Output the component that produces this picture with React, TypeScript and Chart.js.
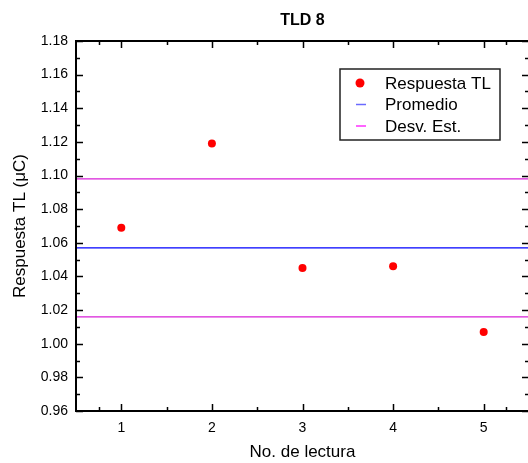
import { useEffect, useRef } from 'react';
import { Chart, registerables } from 'chart.js';

Chart.register(...registerables);

// ---- data ----
const lecturas = [1, 2, 3, 4, 5];
const respuestaTL = [1.069, 1.119, 1.045, 1.046, 1.007];
const promedio = 1.057;
const desvSuperior = 1.098;
const desvInferior = 1.016;
const xLimits = [0.5, 5.5];
const yLimits = [0.96, 1.18];
const xTickValues = [1, 2, 3, 4, 5];
const yTickValues = [0.96, 0.98, 1.0, 1.02, 1.04, 1.06, 1.08, 1.1, 1.12, 1.14, 1.16, 1.18];
const legendOrder = ['Respuesta TL', 'Promedio', 'Desv. Est.'];

const FONT = "'Liberation Sans', Arial, Helvetica, sans-serif";

const midpoints = (arr: number[], lo: number, hi: number) => {
  const out: number[] = [];
  const all = [lo, ...arr, hi];
  for (let i = 0; i < all.length - 1; i++) {
    const m = (all[i] + all[i + 1]) / 2;
    if (m > lo && m < hi && !arr.includes(m)) out.push(m);
  }
  return out;
};

const axisBoxPlugin = {
  id: 'axisBox',
  afterDraw(chart: any) {
    const { ctx, chartArea: a, scales } = chart;
    const xs = scales.x;
    const ys = scales.y;
    ctx.save();
    ctx.strokeStyle = '#000';
    ctx.lineWidth = 1.5;
    const major = 7;
    const minor = 4;
    const xMinor = midpoints(xTickValues, xLimits[0], xLimits[1]);
    const yMinor = midpoints(yTickValues, yLimits[0], yLimits[1]);
    const drawX = (v: number, len: number) => {
      const px = Math.round(xs.getPixelForValue(v)) + 0.5;
      ctx.beginPath();
      ctx.moveTo(px, a.bottom);
      ctx.lineTo(px, a.bottom - len);
      ctx.moveTo(px, a.top);
      ctx.lineTo(px, a.top + len);
      ctx.stroke();
    };
    const drawY = (v: number, len: number) => {
      const py = Math.round(ys.getPixelForValue(v)) + 0.5;
      ctx.beginPath();
      ctx.moveTo(a.left, py);
      ctx.lineTo(a.left + len, py);
      ctx.moveTo(a.right, py);
      ctx.lineTo(a.right - len, py);
      ctx.stroke();
    };
    xTickValues.forEach((v) => drawX(v, major));
    xMinor.forEach((v) => drawX(v, minor));
    yTickValues.forEach((v) => drawY(v, major));
    yMinor.forEach((v) => drawY(v, minor));
    ctx.lineWidth = 2;
    ctx.strokeRect(a.left, a.top, a.right - a.left, a.bottom - a.top);
    ctx.restore();
  },
};

const insideLegendPlugin = {
  id: 'insideLegend',
  afterDraw(chart: any) {
    const { ctx } = chart;
    const items = legendOrder
      .map((name) => chart.data.datasets.find((d: any) => d.label === name))
      .filter(Boolean);
    const bx = 340;
    const by = 69;
    const bw = 160;
    const bh = 71;
    ctx.save();
    ctx.fillStyle = '#fff';
    ctx.fillRect(bx, by, bw, bh);
    ctx.lineWidth = 1.5;
    ctx.strokeStyle = '#222';
    ctx.strokeRect(bx, by, bw, bh);
    ctx.font = `17px ${FONT}`;
    ctx.textBaseline = 'middle';
    ctx.textAlign = 'left';
    items.forEach((d: any, i: number) => {
      const cy = by + 14 + i * 21.5;
      if (d.showLine) {
        ctx.strokeStyle = d.legendColor;
        ctx.lineWidth = 1.5;
        ctx.beginPath();
        ctx.moveTo(356, cy);
        ctx.lineTo(366, cy);
        ctx.stroke();
      } else {
        ctx.fillStyle = d.backgroundColor;
        ctx.beginPath();
        ctx.arc(360, cy, 4.5, 0, Math.PI * 2);
        ctx.fill();
      }
      ctx.fillStyle = '#000';
      ctx.fillText(d.label, 385, cy + 1);
    });
    ctx.restore();
  },
};

export default function App() {
  const ref = useRef<HTMLCanvasElement | null>(null);

  useEffect(() => {
    if (!ref.current) return;
    const lineData = (v: number) => xLimits.map((x) => ({ x, y: v }));
    const chart = new Chart(ref.current, {
      type: 'scatter',
      data: {
        datasets: [
          {
            label: 'Promedio',
            data: lineData(promedio),
            showLine: true,
            borderColor: '#0000ff',
            legendColor: '#6a6aff',
            borderWidth: 1.2,
            pointRadius: 0,
            order: 3,
          } as any,
          {
            label: 'Desv. Est.',
            data: lineData(desvSuperior),
            showLine: true,
            borderColor: '#d820d8',
            legendColor: '#ff30ff',
            borderWidth: 1.2,
            pointRadius: 0,
            order: 2,
          } as any,
          {
            label: 'Desv. Est. (inferior)',
            data: lineData(desvInferior),
            showLine: true,
            borderColor: '#d820d8',
            borderWidth: 1.2,
            pointRadius: 0,
            order: 2,
          } as any,
          {
            label: 'Respuesta TL',
            data: lecturas.map((x, i) => ({ x, y: respuestaTL[i] })),
            backgroundColor: '#ff0000',
            borderColor: '#ff0000',
            pointRadius: 4,
            pointBorderWidth: 0,
            showLine: false,
            order: 1,
          } as any,
        ],
      },
      options: {
        animation: false,
        responsive: false,
        devicePixelRatio: 1,
        layout: { padding: { left: 0, right: 11, top: 0, bottom: 0 } },
        plugins: {
          legend: { display: false },
          tooltip: { enabled: false },
          title: {
            display: true,
            text: 'TLD 8',
            fullSize: false,
            color: '#000',
            font: { family: FONT, size: 16, weight: 'bold' },
            padding: { top: 11, bottom: 10.8 },
          },
        },
        scales: {
          x: {
            type: 'linear',
            min: xLimits[0],
            max: xLimits[1],
            grid: { display: false, drawTicks: false },
            border: { display: false },
            afterBuildTicks: (s: any) => {
              s.ticks = xTickValues.map((v) => ({ value: v }));
            },
            afterFit: (s: any) => {
              s.height = 52;
            },
            ticks: {
              color: '#000',
              font: { family: FONT, size: 14 },
              padding: 9,
              maxRotation: 0,
              callback: (v: any) => String(v),
            },
            title: {
              display: true,
              text: 'No. de lectura',
              color: '#000',
              font: { family: FONT, size: 17 },
              padding: { top: 0, bottom: 0 },
            },
          },
          y: {
            type: 'linear',
            min: yLimits[0],
            max: yLimits[1],
            grid: { display: false, drawTicks: false },
            border: { display: false },
            afterBuildTicks: (s: any) => {
              s.ticks = yTickValues.map((v) => ({ value: v }));
            },
            afterFit: (s: any) => {
              s.width = 76;
            },
            ticks: {
              color: '#000',
              font: { family: FONT, size: 14 },
              padding: 8,
              callback: (v: any) => Number(v).toFixed(2),
            },
            title: {
              display: true,
              text: 'Respuesta TL (\u03bcC)',
              color: '#000',
              font: { family: FONT, size: 17 },
              padding: { top: 10, bottom: 0 },
            },
          },
        },
      } as any,
      plugins: [axisBoxPlugin, insideLegendPlugin],
    });
    return () => chart.destroy();
  }, []);

  return (
    <div style={{ position: 'fixed', left: 0, top: 0, width: 540, height: 463, background: '#fff' }}>
      <canvas ref={ref} width={540} height={463} style={{ display: 'block' }} />
    </div>
  );
}
